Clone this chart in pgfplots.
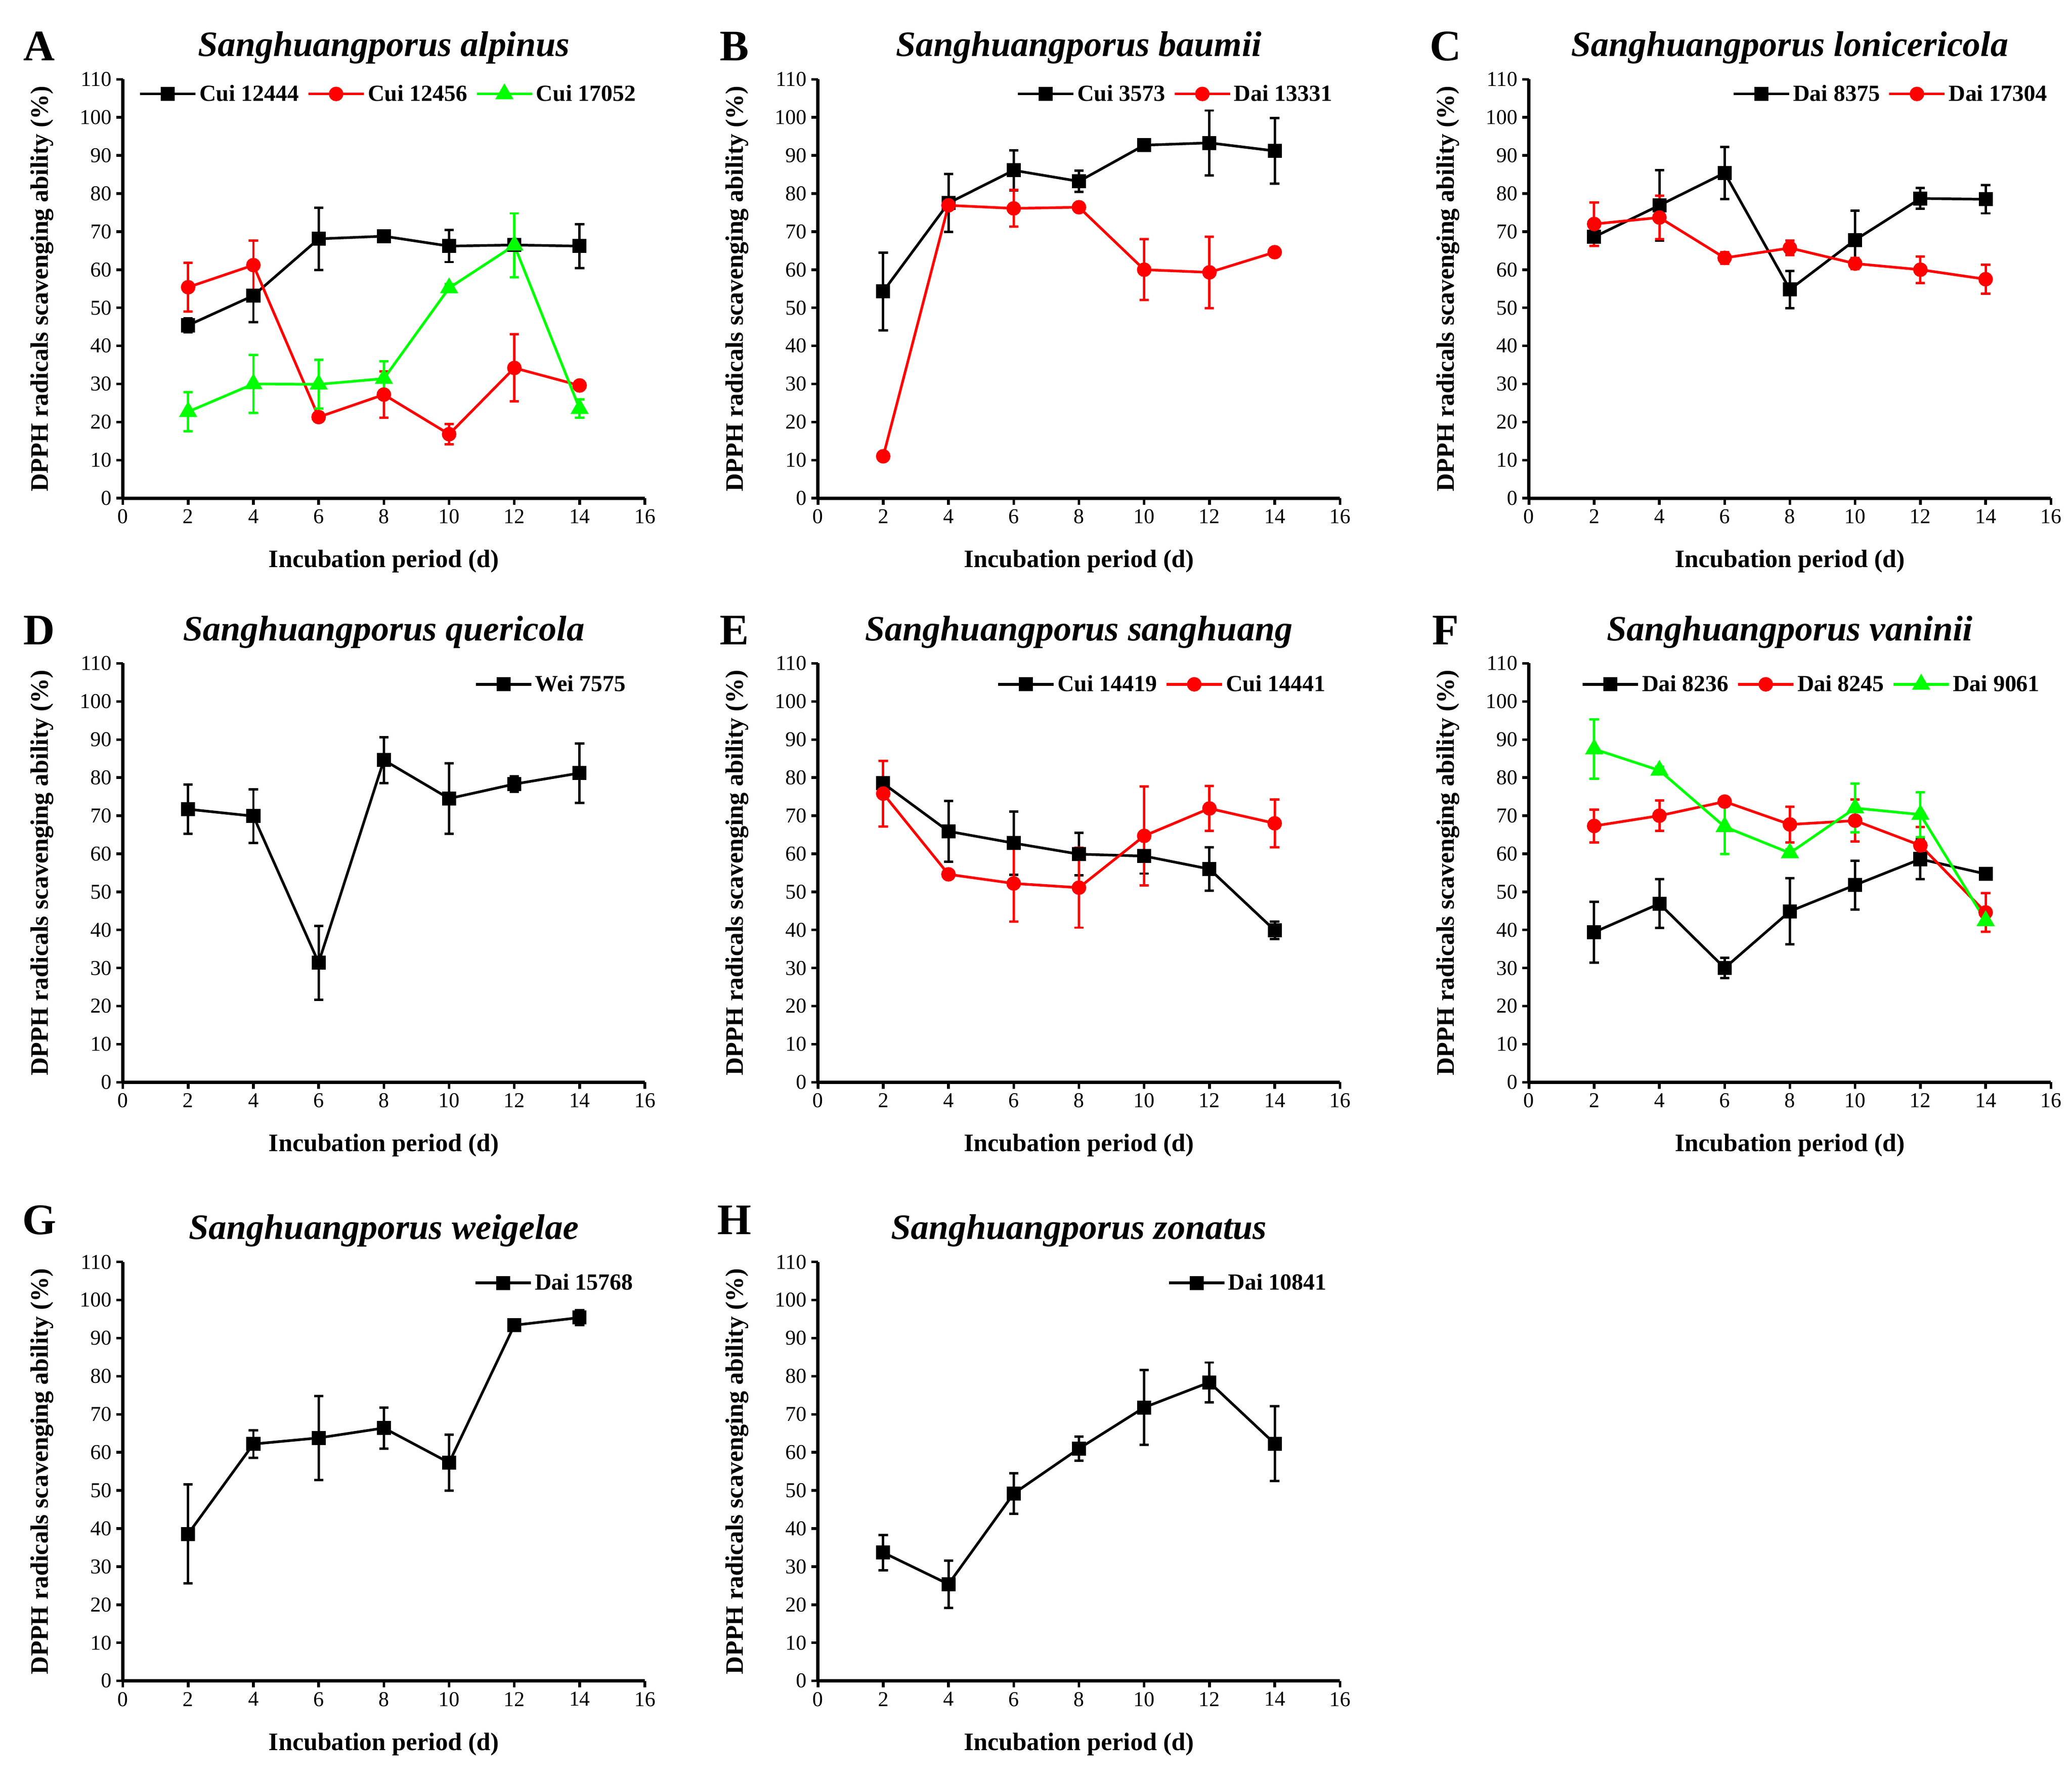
\documentclass[border=0pt]{standalone}
\usepackage{fontspec}
\setmainfont{Liberation Serif}
\usepackage{pgfplots}
\pgfplotsset{compat=1.18}

\definecolor{pgreen}{RGB}{0,255,0}
\definecolor{pred}{RGB}{255,0,0}

\pgfplotsset{
  panel/.style={
    width=395pt, height=317pt, scale only axis, anchor=south west,
    xmin=0, xmax=16, ymin=0, ymax=110,
    xtick={0,2,...,16}, ytick={0,10,...,110},
    axis x line*=bottom, axis y line*=left, tick pos=left,
    axis line style={line width=2.5pt},
    tick align=outside, major tick length=5pt,
    tick style={line width=2pt, black},
    ticklabel style={font=\fontsize{16}{18}\selectfont},
    /pgf/number format/assume math mode=true,
    xlabel={Incubation period (d)},
    ylabel={DPPH radicals scavenging ability (\%)},
    every axis x label/.style={at={(axis description cs:0.5,-0.151)}, anchor=center,
      font=\fontsize{19}{22}\selectfont\bfseries},
    every axis y label/.style={at={(axis description cs:-0.155,0.5)}, rotate=90, anchor=center,
      font=\fontsize{19}{22}\selectfont\bfseries},
    legend columns=-1,
    legend style={draw=none, fill=none, anchor=east, inner sep=0pt,
      font=\fontsize{17.5}{20}\selectfont\bfseries,
      /tikz/every even column/.append style={column sep=4pt}},
    legend image code/.code={\draw[mark repeat=2, mark phase=2, #1]
      plot coordinates {(0pt,0pt) (21pt,0pt) (42pt,0pt)};},
    clip=false,
  },
  ebars/.style={error bars/.cd, y dir=both, y explicit,
    error bar style={line width=1.8pt},
    error mark options={rotate=90, mark size=3.5pt, line width=1.8pt}},
  sblack/.style={black, line width=2pt, mark=square*, mark size=4.3pt, mark options={solid, fill=black}, ebars},
  sred/.style={pred, line width=2pt, mark=*, mark size=4.5pt, mark options={solid, fill=pred}, ebars},
  sgreen/.style={pgreen, line width=2pt, mark=triangle*, mark size=6pt, mark options={solid, fill=pgreen}, ebars},
}

\newcommand{\paneltext}[3]{%
  \node[font=\fontsize{33}{36}\selectfont\bfseries] at (axis description cs:-0.16,#3) {#1};
  \node[font=\fontsize{27}{30}\selectfont\bfseries\itshape] at (axis description cs:0.5,1.075) {#2};
}

\begin{document}
\begin{tikzpicture}
\path[use as bounding box] (0,0) rectangle (1568pt,-1347pt);

% A
\begin{axis}[panel, at={(93pt,-377pt)}, legend style={at={(0.988,0.965)}}]
\paneltext{A}{Sanghuangporus alpinus}{1.079}
\addplot[sblack] coordinates {(2,45.4) +- (0,1.8) (4,53.2) +- (0,7.0) (6,68.1) +- (0,8.2) (8,68.8) +- (0,0.8) (10,66.2) +- (0,4.2) (12,66.5) +- (0,1.0) (14,66.2) +- (0,5.8)};
\addlegendentry{Cui 12444}
\addplot[sred] coordinates {(2,55.4) +- (0,6.4) (4,61.2) +- (0,6.5) (6,21.3) +- (0,1.2) (8,27.2) +- (0,6.1) (10,16.8) +- (0,2.7) (12,34.2) +- (0,8.8) (14,29.6) +- (0,1.0)};
\addlegendentry{Cui 12456}
\addplot[sgreen] coordinates {(2,22.7) +- (0,5.1) (4,30.0) +- (0,7.6) (6,29.9) +- (0,6.4) (8,31.4) +- (0,4.6) (10,55.2) +- (0,1.0) (12,66.4) +- (0,8.4) (14,23.5) +- (0,2.4)};
\addlegendentry{Cui 17052}
\end{axis}

% B
\begin{axis}[panel, at={(619pt,-377pt)}, legend style={at={(0.991,0.965)}}]
\paneltext{B}{Sanghuangporus baumii}{1.079}
\addplot[sblack] coordinates {(2,54.3) +- (0,10.2) (4,77.5) +- (0,7.6) (6,86.1) +- (0,5.3) (8,83.2) +- (0,2.8) (10,92.7) +- (0,1.0) (12,93.3) +- (0,8.5) (14,91.2) +- (0,8.6)};
\addlegendentry{Cui 3573}
\addplot[sred] coordinates {(2,11.0) +- (0,0.8) (4,76.9) +- (0,1.0) (6,76.1) +- (0,4.8) (8,76.4) +- (0,1.0) (10,60.0) +- (0,8.0) (12,59.3) +- (0,9.4) (14,64.6) +- (0,1.0)};
\addlegendentry{Dai 13331}
\end{axis}

% C
\begin{axis}[panel, at={(1157pt,-377pt)}, legend style={at={(0.998,0.965)}}]
\paneltext{C}{Sanghuangporus lonicericola}{1.079}
\addplot[sblack] coordinates {(2,68.6) +- (0,1.5) (4,76.9) +- (0,9.3) (6,85.4) +- (0,6.8) (8,54.8) +- (0,4.9) (10,67.8) +- (0,7.7) (12,78.7) +- (0,2.7) (14,78.5) +- (0,3.7)};
\addlegendentry{Dai 8375}
\addplot[sred] coordinates {(2,72.0) +- (0,5.7) (4,73.7) +- (0,5.7) (6,63.1) +- (0,1.5) (8,65.7) +- (0,1.9) (10,61.6) +- (0,1.5) (12,60.0) +- (0,3.5) (14,57.5) +- (0,3.8)};
\addlegendentry{Dai 17304}
\end{axis}

% D
\begin{axis}[panel, at={(93pt,-819pt)}, legend style={at={(0.969,0.95)}}]
\paneltext{D}{Sanghuangporus quericola}{1.079}
\addplot[sblack] coordinates {(2,71.7) +- (0,6.5) (4,69.9) +- (0,7.0) (6,31.4) +- (0,9.7) (8,84.6) +- (0,6.0) (10,74.5) +- (0,9.3) (12,78.3) +- (0,2.0) (14,81.2) +- (0,7.8)};
\addlegendentry{Wei 7575}
\end{axis}

% E
\begin{axis}[panel, at={(619pt,-819pt)}, legend style={at={(0.978,0.95)}}]
\paneltext{E}{Sanghuangporus sanghuang}{1.079}
\addplot[sblack] coordinates {(2,78.5) +- (0,1.4) (4,65.9) +- (0,8.0) (6,62.8) +- (0,8.3) (8,59.9) +- (0,5.6) (10,59.4) +- (0,4.6) (12,56.0) +- (0,5.7) (14,39.9) +- (0,2.3)};
\addlegendentry{Cui 14419}
\addplot[sred] coordinates {(2,75.8) +- (0,8.6) (4,54.6) +- (0,1.0) (6,52.2) +- (0,10.0) (8,51.1) +- (0,10.5) (10,64.7) +- (0,13.0) (12,71.9) +- (0,5.9) (14,68.0) +- (0,6.3)};
\addlegendentry{Cui 14441}
\end{axis}

% F
\begin{axis}[panel, at={(1157pt,-819pt)}, legend style={at={(0.984,0.95)}}]
\paneltext{F}{Sanghuangporus vaninii}{1.079}
\addplot[sblack] coordinates {(2,39.4) +- (0,8.0) (4,46.9) +- (0,6.4) (6,30.0) +- (0,2.7) (8,44.9) +- (0,8.7) (10,51.8) +- (0,6.4) (12,58.6) +- (0,5.3) (14,54.7) +- (0,0.8)};
\addlegendentry{Dai 8236}
\addplot[sred] coordinates {(2,67.3) +- (0,4.3) (4,70.0) +- (0,4.0) (6,73.7) +- (0,1.2) (8,67.7) +- (0,4.7) (10,68.7) +- (0,5.5) (12,62.2) +- (0,4.8) (14,44.6) +- (0,5.1)};
\addlegendentry{Dai 8245}
\addplot[sgreen] coordinates {(2,87.5) +- (0,7.8) (4,81.9) +- (0,1.0) (6,67.1) +- (0,7.2) (8,60.2) +- (0,1.0) (10,72.0) +- (0,6.4) (12,70.3) +- (0,5.9) (14,42.4) +- (0,1.0)};
\addlegendentry{Dai 9061}
\end{axis}

% G
\begin{axis}[panel, at={(93pt,-1272pt)}, legend style={at={(0.983,0.95)}}]
\paneltext{G}{Sanghuangporus weigelae}{1.10}
\addplot[sblack] coordinates {(2,38.6) +- (0,13.0) (4,62.2) +- (0,3.6) (6,63.8) +- (0,11.0) (8,66.4) +- (0,5.4) (10,57.3) +- (0,7.4) (12,93.4) +- (0,0.8) (14,95.4) +- (0,2.0)};
\addlegendentry{Dai 15768}
\end{axis}

% H
\begin{axis}[panel, at={(619pt,-1272pt)}, legend style={at={(0.980,0.95)}}]
\paneltext{H}{Sanghuangporus zonatus}{1.10}
\addplot[sblack] coordinates {(2,33.7) +- (0,4.6) (4,25.4) +- (0,6.2) (6,49.2) +- (0,5.3) (8,61.0) +- (0,3.2) (10,71.8) +- (0,9.8) (12,78.4) +- (0,5.2) (14,62.3) +- (0,9.8)};
\addlegendentry{Dai 10841}
\end{axis}
\end{tikzpicture}
\end{document}
